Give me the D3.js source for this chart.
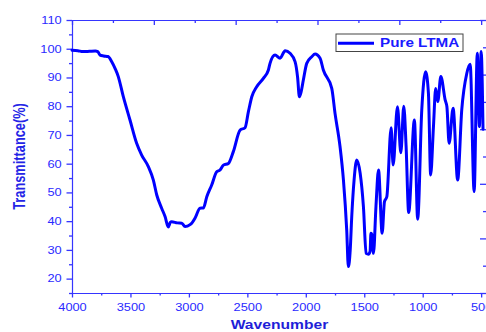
<!DOCTYPE html>
<html>
<head>
<meta charset="utf-8">
<script src="https://cdn.jsdelivr.net/npm/d3@7"></script>
<style>
  html, body { margin: 0; padding: 0; background: #fff; }
  svg { display: block; font-family: "Liberation Sans", Arial, sans-serif; }
</style>
</head>
<body>
<svg id="chart" width="486" height="332"></svg>
<script>
// FTIR spectrum of pure LTMA
const wavenumber = [
  4000, 3950, 3906, 3850, 3800, 3780, 3760, 3730, 3692, 3660, 3630, 3604,
  3561, 3504, 3447, 3404, 3347, 3304, 3275, 3233, 3204, 3176, 3160, 3147,
  3100, 3061, 3033, 2990, 2976, 2947, 2905, 2876, 2847, 2805, 2762, 2734,
  2705, 2662, 2620, 2562, 2520, 2491, 2462, 2420, 2363, 2320, 2306, 2263,
  2220, 2177, 2135, 2092, 2070, 2055, 2040, 2021, 1992, 1949, 1921, 1878,
  1850, 1778, 1750, 1707, 1678, 1650, 1636, 1620, 1607, 1587, 1564, 1535,
  1507, 1484, 1464, 1450, 1443, 1432, 1421, 1400, 1378, 1347, 1327, 1307,
  1270, 1253, 1216, 1187, 1162, 1142, 1120, 1071, 1043, 1008, 975, 951,
  932, 908, 889, 871, 845, 808, 793, 774, 740, 701, 666, 623,
  594, 560, 533, 515, 500, 484
];
const transmittance = [
  99.5, 99.3, 99.0, 99.1, 99.2, 99.0, 97.8, 97.5, 97.3, 95.5, 93.0, 90.3,
  83.3, 75.2, 67.1, 63.0, 59.0, 54.3, 49.1, 44.5, 41.6, 38.0, 39.5, 39.8,
  39.4, 39.3, 38.1, 38.8, 39.3, 41.1, 44.5, 44.6, 48.5, 52.6, 57.2, 57.8,
  59.5, 60.1, 64.2, 71.7, 72.5, 78.1, 83.3, 86.8, 89.7, 92.6, 94.9, 97.8,
  96.7, 99.3, 98.4, 95.5, 90.0, 83.3, 85.0, 89.1, 94.9, 97.2, 98.2, 96.7,
  92.6, 86.2, 77.5, 65.9, 54.3, 36.9, 24.2, 30.0, 41.6, 54.3, 61.3, 56.7,
  45.0, 28.8, 28.5, 29.5, 35.8, 35.0, 28.8, 45.0, 57.8, 35.8, 46.8, 48.5,
  72.5, 59.5, 79.8, 63.8, 80.0, 66.0, 43.0, 75.2, 40.7, 78.7, 92.0, 84.5,
  56.1, 72.9, 86.2, 81.6, 90.3, 82.2, 79.8, 67.1, 79.3, 54.3, 78.7, 91.4,
  94.6, 50.3, 98.4, 72.9, 99.0, 72.0
];

const xTicks = [4000, 3500, 3000, 2500, 2000, 1500, 1000, 500];
const xMinorTicks = [3750, 3250, 2750, 2250, 1750, 1250, 750];
const yTicks = [20, 30, 40, 50, 60, 70, 80, 90, 100, 110];
const yMinorTicks = [15, 25, 35, 45, 55, 65, 75, 85, 95, 105];
const topTicks = d3.range(4000, 499, -350);
const rightTicks = d3.range(15, 110.01, 9.5);

const seriesName = "Pure LTMA";
const xTitle = "Wavenumber";
const yTitle = "Transmittance(%)";

const svg = d3.select("#chart");
const plotL = 72, plotR = 487, plotT = 20, plotB = 293;
const stretch = 1.22;          // glyphs are drawn wide
const axisColor = "#3535ff";
const labelColor = "#2a2aff";
const fmt = d3.format("d");

const x = d3.scaleLinear().domain([4000, 450]).range([plotL, plotR]);
const y = d3.scaleLinear().domain([15, 110]).range([plotB, plotT]);

function styleAxis(g) {
  g.select(".domain").attr("stroke", axisColor).attr("stroke-width", 1.2);
  g.selectAll(".tick line").attr("stroke", axisColor).attr("stroke-width", 1.3);
}

// bottom axis
const gx = svg.append("g").attr("transform", `translate(0,${plotB})`)
  .call(d3.axisBottom(x).tickValues(xTicks).tickFormat(fmt)
    .tickSize(4.5).tickPadding(6).tickSizeOuter(0));
styleAxis(gx);
gx.selectAll(".tick text")
  .attr("fill", labelColor).attr("font-size", 10.5)
  .attr("transform", `scale(${stretch},1)`);
svg.append("g").attr("transform", `translate(0,${plotB})`)
  .call(d3.axisBottom(x).tickValues(xMinorTicks).tickSize(2.5).tickFormat(""))
  .call(g => { g.select(".domain").remove(); styleAxis(g); });

// left axis
const gy = svg.append("g").attr("transform", `translate(${plotL},0)`)
  .call(d3.axisLeft(y).tickValues(yTicks).tickFormat(fmt)
    .tickSize(5.5).tickPadding(3).tickSizeOuter(0));
styleAxis(gy);
gy.selectAll(".tick text")
  .attr("fill", labelColor).attr("font-size", 10.5)
  .attr("transform", `scale(${stretch},1)`);
svg.append("g").attr("transform", `translate(${plotL},0)`)
  .call(d3.axisLeft(y).tickValues(yMinorTicks).tickSize(3).tickFormat(""))
  .call(g => { g.select(".domain").remove(); styleAxis(g); });

// top axis, ticks inward
const gt = svg.append("g").attr("transform", `translate(0,${plotT})`)
  .call(d3.axisTop(x).tickValues(topTicks).tickSizeOuter(0).tickFormat(""));
styleAxis(gt);
gt.selectAll(".tick line").attr("y2", (d, i) => i % 2 === 0 ? 5 : 3);

// right axis, ticks inward
const gr = svg.append("g").attr("transform", `translate(${plotR},0)`)
  .call(d3.axisRight(y).tickValues(rightTicks).tickSizeOuter(0).tickFormat(""));
styleAxis(gr);
gr.selectAll(".tick line").attr("x2", (d, i) => i % 2 === 0 ? -7 : -4);

// spectrum line
const pts = wavenumber.map((w, i) => [x(w), y(transmittance[i])]);
svg.append("path")
  .datum(pts)
  .attr("fill", "none")
  .attr("stroke", "#0000ff")
  .attr("stroke-width", 3)
  .attr("stroke-linejoin", "round")
  .attr("stroke-linecap", "round")
  .attr("d", d3.line().curve(d3.curveMonotoneX));

// axis titles
svg.append("text")
  .attr("transform", `translate(${(plotL + plotR) / 2},328.5) scale(1.16,1)`)
  .attr("text-anchor", "middle")
  .attr("font-size", 13.5).attr("font-weight", "bold")
  .attr("fill", "#1f1fd8")
  .text(xTitle);

svg.append("text")
  .attr("transform", `translate(24.5,${(plotT + plotB) / 2}) scale(${stretch},1) rotate(-90)`)
  .attr("text-anchor", "middle")
  .attr("font-size", 12.8).attr("font-weight", "bold")
  .attr("fill", "#2424e6")
  .text(yTitle);

// legend
const lg = svg.append("g").attr("transform", "translate(336,34)");
lg.append("rect")
  .attr("width", 127).attr("height", 17.5)
  .attr("fill", "#fff").attr("stroke", "#444").attr("stroke-width", 1);
lg.append("line")
  .attr("x1", 2).attr("x2", 38).attr("y1", 9.3).attr("y2", 9.3)
  .attr("stroke", "#0000ff").attr("stroke-width", 3);
lg.append("text")
  .attr("transform", `translate(44,13.3) scale(${stretch},1)`)
  .attr("font-size", 12.5).attr("font-weight", "bold")
  .attr("fill", "#1a1aff")
  .text(seriesName);
</script>
</body>
</html>
